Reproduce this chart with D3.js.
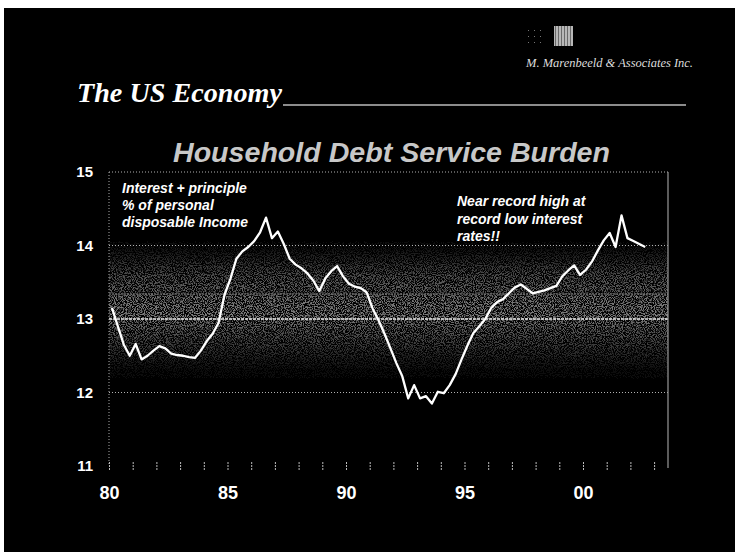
<!DOCTYPE html>
<html>
<head>
<meta charset="utf-8">
<script src="https://cdn.jsdelivr.net/npm/d3@7/dist/d3.min.js"></script>
<style>
  html, body { margin: 0; padding: 0; background: #fff; }
  svg { display: block; }
</style>
</head>
<body>
<svg id="chart" width="735" height="552"></svg>
<script>
// Household debt service burden, % of personal disposable income, quarterly 1980Q1 - 2002Q3
const startYear = 1980;
const debtService = [
  13.15, 12.90, 12.65, 12.50, 12.66, 12.45, 12.50, 12.57,   // 1980-81
  12.63, 12.60, 12.53, 12.51, 12.50, 12.48, 12.47, 12.57,   // 1982-83
  12.70, 12.80, 12.95, 13.33, 13.55, 13.82, 13.92, 13.98,   // 1984-85
  14.06, 14.18, 14.38, 14.10, 14.19, 14.02, 13.82, 13.74,   // 1986-87
  13.69, 13.62, 13.52, 13.38, 13.55, 13.65, 13.72, 13.58,   // 1988-89
  13.48, 13.44, 13.42, 13.36, 13.14, 12.98, 12.80, 12.60,   // 1990-91
  12.40, 12.22, 11.92, 12.10, 11.92, 11.95, 11.85, 12.01,   // 1992-93
  11.99, 12.10, 12.25, 12.45, 12.64, 12.81, 12.90, 13.00,   // 1994-95
  13.15, 13.23, 13.27, 13.35, 13.43, 13.47, 13.41, 13.35,   // 1996-97
  13.37, 13.39, 13.42, 13.45, 13.58, 13.66, 13.73, 13.60,   // 1998-99
  13.67, 13.78, 13.93, 14.07, 14.17, 13.98, 14.41, 14.10,   // 2000-01
  14.06, 14.02, 13.98                                        // 2002
];
const yTicks = [11, 12, 13, 14, 15];
const yearTicks = d3.range(1980, 2004);
const yearLabels = [1980, 1985, 1990, 1995, 2000];
const noteLeft = ["Interest + principle", "% of personal", "disposable Income"];
const noteRight = ["Near record high at", "record low interest", "rates!!"];

const svg = d3.select("#chart");

// slide background
svg.append("rect").attr("x", 4).attr("y", 8).attr("width", 731).attr("height", 544).attr("fill", "#000");

const plot = { left: 109, right: 668, top: 172, bottom: 466 };
const x = d3.scaleLinear().domain([1980, 2003.6]).range([plot.left, plot.left + 23.6 * 23.7]);
const y = d3.scaleLinear().domain([11, 15]).range([plot.bottom, plot.top]);

const defs = svg.append("defs");

// soft grey band across the middle of the plot
const grad = defs.append("linearGradient")
  .attr("id", "band").attr("gradientUnits", "userSpaceOnUse")
  .attr("x1", 0).attr("x2", 0).attr("y1", y(14.1)).attr("y2", y(12.1));
const bandStops = [
  [14.1, "#000"], [13.85, "#222"], [13.6, "#4e4e4e"], [13.38, "#626262"],
  [13.35, "#333"], [13.31, "#727272"], [13.05, "#7c7c7c"], [12.8, "#525252"],
  [12.5, "#282828"], [12.3, "#0e0e0e"], [12.1, "#000"]
];
bandStops.forEach(([v, c]) => {
  grad.append("stop")
    .attr("offset", (y(v) - y(14.1)) / (y(12.1) - y(14.1)))
    .attr("stop-color", c);
});

// halftone-like grain
const grain = defs.append("filter").attr("id", "grain")
  .attr("x", 0).attr("y", 0).attr("width", 1).attr("height", 1);
grain.append("feTurbulence").attr("type", "fractalNoise").attr("baseFrequency", 0.9)
  .attr("numOctaves", 2).attr("seed", 7).attr("result", "n");
grain.append("feColorMatrix").attr("in", "n").attr("type", "matrix")
  .attr("values", "0 0 0 0 1  0 0 0 0 1  0 0 0 0 1  6 0 0 0 -2.6").attr("result", "speck");
grain.append("feComposite").attr("in", "SourceGraphic").attr("in2", "speck").attr("operator", "in");

svg.append("rect")
  .attr("x", plot.left).attr("y", y(14.1))
  .attr("width", plot.right - plot.left).attr("height", y(12.1) - y(14.1))
  .attr("fill", "url(#band)").attr("filter", "url(#grain)");

// faint edge line inside the band
svg.append("line")
  .attr("x1", plot.left).attr("x2", plot.right)
  .attr("y1", y(13.34)).attr("y2", y(13.34))
  .attr("stroke", "#8a8a8a").attr("stroke-width", 1).attr("stroke-dasharray", "2,1");

// grid lines
svg.append("g").selectAll("line")
  .data([12, 13, 14, 15]).join("line")
  .attr("x1", plot.left).attr("x2", plot.right)
  .attr("y1", d => y(d)).attr("y2", d => y(d))
  .attr("stroke", d => d === 13 ? "#e8e8e8" : "#b0b0b0")
  .attr("stroke-width", d => d === 13 ? 1.4 : 1)
  .attr("stroke-dasharray", d => d === 13 ? "3,1" : "1,2");

// plot frame: dotted left edge, solid right edge
svg.append("line").attr("x1", plot.left).attr("x2", plot.left)
  .attr("y1", plot.top).attr("y2", plot.bottom)
  .attr("stroke", "#aaa").attr("stroke-dasharray", "1,2");
svg.append("line").attr("x1", plot.right).attr("x2", plot.right)
  .attr("y1", plot.top).attr("y2", plot.bottom + 2)
  .attr("stroke", "#999").attr("stroke-width", 1.2);

// y axis labels
const yAxis = svg.append("g")
  .attr("transform", `translate(${plot.left},0)`)
  .call(d3.axisLeft(y).tickValues(yTicks).tickSize(0).tickPadding(16).tickFormat(d3.format("d")));
yAxis.select(".domain").remove();
yAxis.selectAll("text")
  .attr("fill", "#fff").attr("font-family", "'Liberation Sans', Arial, sans-serif")
  .attr("font-weight", "bold").attr("font-size", 15);

// x axis: yearly ticks, labels every five years
const xAxis = svg.append("g")
  .attr("transform", `translate(0,${plot.bottom - 4})`)
  .call(d3.axisBottom(x).tickValues(yearTicks).tickSize(8).tickPadding(16)
    .tickFormat(d => yearLabels.includes(d) ? String(d).slice(2) : ""));
xAxis.select(".domain").remove();
xAxis.selectAll(".tick line").attr("stroke", "#bbb").attr("stroke-dasharray", "2,1");
xAxis.selectAll("text")
  .attr("fill", "#fff")
  .attr("font-family", "'Liberation Sans Narrow', 'Arial Narrow', 'Liberation Sans', sans-serif")
  .attr("font-weight", "bold").attr("font-size", 18);

// debt service line, plotted at mid-quarter
const line = d3.line()
  .x((d, i) => x(startYear + 0.125 + i * 0.25))
  .y(d => y(d));
svg.append("path")
  .datum(debtService)
  .attr("d", line)
  .attr("fill", "none").attr("stroke", "#fff")
  .attr("stroke-width", 2.3).attr("stroke-linejoin", "round");

// notes inside the plot
const noteFont = "'Liberation Sans', Arial, sans-serif";
svg.append("g").selectAll("text").data(noteLeft).join("text")
  .attr("x", 122).attr("y", (d, i) => 193 + i * 17)
  .text(d => d)
  .attr("fill", "#fff").attr("font-family", noteFont)
  .attr("font-weight", "bold").attr("font-style", "italic").attr("font-size", 14);
svg.append("g").selectAll("text").data(noteRight).join("text")
  .attr("x", 457).attr("y", (d, i) => 206 + i * 17.5)
  .text(d => d)
  .attr("fill", "#fff").attr("font-family", noteFont)
  .attr("font-weight", "bold").attr("font-style", "italic").attr("font-size", 14);

// chart title
svg.append("text")
  .attr("x", 173).attr("y", 162)
  .attr("textLength", 437).attr("lengthAdjust", "spacingAndGlyphs")
  .text("Household Debt Service Burden")
  .attr("fill", "#c8c8c8").attr("font-family", noteFont)
  .attr("font-weight", "bold").attr("font-style", "italic").attr("font-size", 28);

// slide heading with rule
svg.append("text")
  .attr("x", 77).attr("y", 102)
  .attr("textLength", 205).attr("lengthAdjust", "spacingAndGlyphs")
  .text("The US Economy")
  .attr("fill", "#fff").attr("font-family", "'Liberation Serif', 'Times New Roman', serif")
  .attr("font-weight", "bold").attr("font-style", "italic").attr("font-size", 28);
svg.append("line").attr("x1", 283).attr("x2", 686).attr("y1", 105).attr("y2", 105)
  .attr("stroke", "#bbb").attr("stroke-width", 1.5);

// company mark
const stripes = defs.append("pattern").attr("id", "stripes")
  .attr("patternUnits", "userSpaceOnUse").attr("width", 3).attr("height", 3);
stripes.append("rect").attr("width", 3).attr("height", 3).attr("fill", "#b8b8b8");
stripes.append("rect").attr("width", 1).attr("height", 3).attr("fill", "#6a6a6a");
svg.append("rect").attr("x", 554).attr("y", 26).attr("width", 19).attr("height", 20)
  .attr("fill", "url(#stripes)");
const dots = defs.append("pattern").attr("id", "dots")
  .attr("patternUnits", "userSpaceOnUse").attr("width", 6).attr("height", 6);
dots.append("rect").attr("width", 1).attr("height", 1).attr("fill", "#777");
svg.append("rect").attr("x", 526).attr("y", 27).attr("width", 20).attr("height", 19)
  .attr("fill", "url(#dots)");
svg.append("text")
  .attr("x", 526).attr("y", 67)
  .attr("textLength", 167).attr("lengthAdjust", "spacingAndGlyphs")
  .text("M. Marenbeeld & Associates Inc.")
  .attr("fill", "#ddd").attr("font-family", "'Liberation Serif', 'Times New Roman', serif")
  .attr("font-style", "italic").attr("font-size", 12);
</script>
</body>
</html>
